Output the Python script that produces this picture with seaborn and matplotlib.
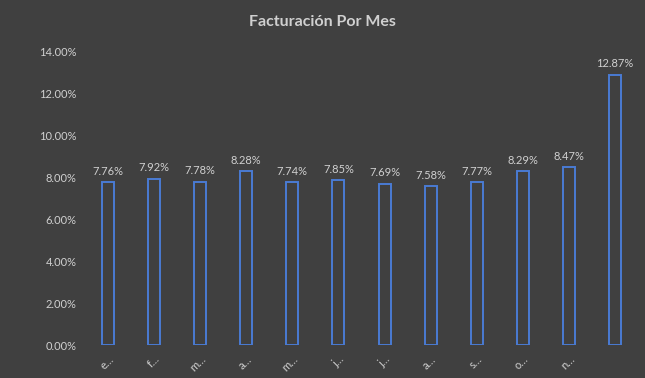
import matplotlib
matplotlib.use("Agg")
import matplotlib.pyplot as plt
import seaborn as sns
import pandas as pd

months = ["e…", "f…", "m…", "a…", "m…", "j…", "j…", "a…", "s…", "o…", "n…", ""]
values = [7.76, 7.92, 7.78, 8.28, 7.74, 7.85, 7.69, 7.58, 7.77, 8.29, 8.47, 12.87]
yticks = [0, 2, 4, 6, 8, 10, 12, 14]
title = "Facturación Por Mes"

sns.set_theme(style="dark")
plt.rcParams['font.family'] = ['Lato', 'DejaVu Sans']

bg = "#404040"
txt = "#d0d0d0"
edge = "#4a7bd4"

df = pd.DataFrame({"pos": list(range(len(values))), "val": values})

fig = plt.figure(figsize=(6.45, 3.78), dpi=100, facecolor=bg)
ax = fig.add_axes([85/645, 1 - 345/378, (638-85)/645, (345-51)/378])
ax.set_facecolor(bg)

sns.barplot(data=df, x="pos", y="val", ax=ax, width=0.26,
            facecolor=bg, edgecolor=edge, linewidth=1.4)

for i, v in enumerate(values):
    ax.text(i, v + 0.25, f"{v:.2f}%", ha="center", va="bottom", color=txt, fontsize=8)

ax.set_ylim(0, 14)
ax.set_xlim(-0.5, len(values) - 0.5)
ax.set_yticks(yticks)
ax.set_yticklabels([f"{t:.2f}%" for t in yticks], color=txt, fontsize=8)
ax.set_xticks(range(len(values)))
ax.set_xticklabels(months, rotation=45, color=txt, fontsize=8, ha="right", rotation_mode="anchor")
ax.tick_params(axis="both", length=0, pad=6)
ax.set_xlabel("")
ax.set_ylabel("")
ax.grid(False)
for s in ax.spines.values():
    s.set_visible(False)

fig.text(0.5, 1 - 22/378, title, ha="center", va="center", color=txt, fontsize=11.5, fontweight="bold")

fig.savefig("out.png", dpi=100, facecolor=bg)
